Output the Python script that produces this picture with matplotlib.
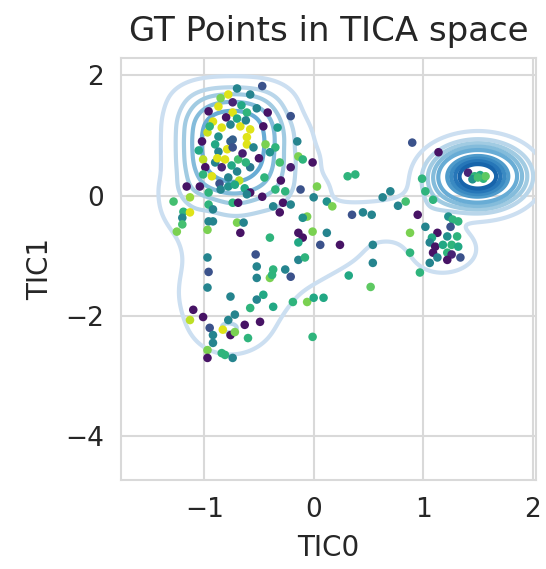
import numpy as np
import matplotlib
matplotlib.use('Agg')
import matplotlib.pyplot as plt
import seaborn as sns

# --- GT points (TIC0, TIC1, colour value for viridis) ---
pts = [
    # left cluster core
    (-0.58, 1.68, .45), (-0.78, 1.68, .95), (-0.74, 1.55, .10), (-0.87, 1.48, .95),
    (-0.96, 1.40, .05), (-0.74, 1.38, .95), (-0.61, 1.38, .65), (-0.92, 1.23, .95),
    (-0.76, 1.18, .45), (-0.67, 1.15, .95), (-0.58, 1.10, .95), (-0.84, 1.13, .95),
    (-0.97, 1.05, .92), (-0.87, 0.98, .50), (-0.74, 0.93, .30), (-0.76, 0.90, .30),
    (-0.61, 0.97, .95), (-0.61, 0.85, .95), (-0.90, 0.85, .60), (-0.79, 0.77, .95),
    (-0.74, 0.80, .25), (-0.87, 0.73, .45), (-0.81, 0.60, .95), (-0.69, 0.60, .70),
    (-0.90, 0.55, .45), (-1.01, 0.60, .90), (-0.99, 0.47, .05), (-0.84, 0.47, .10),
    (-0.70, 0.40, .45), (-0.58, 0.47, .40), (-1.01, 0.35, .65), (-0.93, 0.32, .95),
    (-0.47, 1.82, .25), (-0.80, 1.30, .05), (-0.70, 1.28, .60), (-0.62, 1.25, .45),
    (-0.95, 1.15, .65), (-1.02, 0.90, .05), (-1.05, 0.75, .60), (-0.55, 0.80, .45),
    (-0.50, 0.62, .05), (-0.65, 0.70, .08), (-0.88, 0.62, .95), (-0.75, 0.50, .60),
    (-0.62, 0.55, .65), (-0.52, 1.45, .45), (-0.66, 1.50, .60), (-0.85, 1.62, .80),
    (-0.70, 1.78, .45), (-0.45, 0.30, .65), (-0.78, 0.30, .45), (-0.68, 0.25, .90),
    (-0.86, 0.20, .25),
    # right of left cluster
    (-0.21, 1.32, .25), (-0.15, 0.90, .45), (-0.42, 1.38, .05), (-0.46, 1.15, .05),
    (-0.33, 1.13, .55), (-0.35, 0.80, .65), (-0.14, 0.65, .80), (-0.10, 0.60, .65),
    (-0.01, 0.55, .05), (-0.21, 0.47, .08), (-0.31, 0.55, .70), (0.31, 0.32, .65),
    (0.38, 0.35, .65), (-0.40, 0.72, .50), (-0.44, 0.85, .80),
    # middle band
    (-1.04, 0.15, .05), (-0.96, 0.05, .65), (-0.85, 0.10, .45), (-0.78, 0.15, .50),
    (-0.72, 0.18, .60), (-0.63, 0.12, .60), (-0.58, 0.05, .05), (-0.61, 0.02, .45),
    (-0.47, -0.02, .05), (-0.35, 0.10, .65), (-0.30, 0.25, .05),
    # left side going down
    (-1.28, -0.10, .70), (-1.16, 0.15, .05), (-1.13, -0.03, .85), (-1.19, -0.27, .65),
    (-1.13, -0.28, .95), (-1.20, -0.37, .45), (-1.20, -0.48, .70), (-1.25, -0.60, .80),
    (-0.96, -0.15, .65), (-0.92, -0.23, .45), (-0.96, -0.43, .45), (-0.92, -0.43, .45),
    (-0.97, -0.57, .80), (-0.74, -0.12, .65), (-0.69, -0.12, .05), (-0.70, -0.45, .80),
    (-0.64, -0.45, .45), (-0.67, -0.62, .05), (-0.97, -1.03, .45), (-0.53, -0.98, .25),
    (-0.52, -1.18, .45),
    # centre
    (-0.12, 0.10, .25), (0.03, 0.15, .80), (-0.26, 0.07, .65), (0.00, -0.03, .45),
    (0.12, -0.10, .50), (0.17, -0.18, .80), (-0.28, -0.12, .05), (-0.21, -0.15, .45),
    (-0.37, -0.18, .45), (-0.31, -0.28, .05), (-0.06, -0.35, .80), (-0.10, -0.37, .50),
    (-0.14, -0.62, .05), (-0.10, -0.70, .05), (-0.01, -0.60, .80), (0.12, -0.62, .45),
    (-0.40, -0.70, .65), (-0.14, -0.78, .60), (0.06, -0.82, .25), (0.24, -0.82, .05),
    (-0.14, -1.07, .45), (-0.08, -1.03, .65), (-0.37, -1.23, .65), (-0.26, -1.23, .45),
    (0.32, -1.33, .60), (0.45, -0.28, .45), (0.35, -0.32, .25),
    (0.54, -0.82, .45), (0.54, -1.12, .45), (0.52, -1.52, .75), (-0.21, -1.35, .25),
    (-0.19, -1.77, .65), (-0.06, -1.77, .80), (0.00, -1.70, .60), (0.09, -1.70, .60),
    (-0.01, -2.35, .65),
    # lower left loop
    (-0.96, -1.27, .25), (-0.97, -1.53, .45), (-0.76, -1.68, .45), (-1.13, -2.07, .90),
    (-1.01, -2.02, .05), (-0.95, -2.20, .25), (-0.92, -2.32, .45), (-0.83, -2.23, .95),
    (-0.76, -2.32, .05), (-0.72, -2.27, .80), (-0.78, -2.07, .45), (-0.72, -1.98, .45),
    (-0.63, -2.15, .05), (-0.49, -2.10, .05), (-0.60, -2.37, .65), (-0.58, -1.87, .65),
    (-0.52, -1.73, .45), (-0.46, -1.65, .60), (-0.37, -1.85, .60), (-0.40, -1.37, .80),
    (-0.38, -1.32, .65), (-0.97, -2.57, .80), (-0.97, -2.70, .05), (-0.84, -2.62, .65),
    (-0.81, -2.65, .65), (-0.74, -2.70, .45), (-0.52, -1.37, .45), (-1.10, -1.90, .05),
    (-0.92, -2.45, .45),
    # right side
    (0.90, 0.88, .25), (1.14, 0.72, .05), (0.99, 0.28, .65), (1.02, 0.07, .65),
    (1.09, -0.07, .65), (0.70, 0.07, .45), (0.63, -0.03, .45), (0.84, -0.10, .70),
    (0.77, -0.17, .45), (0.53, -0.32, .45), (0.95, -0.32, .05), (0.88, -0.62, .80),
    (1.02, -0.52, .45), (1.23, -0.35, .50), (1.27, -0.40, .65), (1.32, -0.43, .65),
    (1.25, -0.52, .25), (1.13, -0.62, .05), (1.08, -0.70, .60), (1.22, -0.68, .50),
    (1.31, -0.68, .65), (1.06, -0.78, .45), (1.11, -0.85, .05), (1.18, -0.82, .60),
    (1.26, -0.82, .65), (1.32, -0.85, .60), (1.09, -0.95, .05), (1.22, -0.95, .65),
    (1.26, -0.98, .10), (1.13, -1.03, .45), (1.06, -1.12, .45), (1.22, -1.07, .05),
    (1.34, -1.03, .25), (0.88, -0.95, .65), (0.97, -1.28, .65),
    # right cluster
    (1.41, 0.38, .10), (1.47, 0.32, .65), (1.52, 0.34, .60), (1.55, 0.28, .65),
    (1.45, 0.27, .50), (1.57, 0.32, .75), (1.50, 0.30, .70),
]
gt_x = [p[0] for p in pts]
gt_y = [p[1] for p in pts]
gt_c = [p[2] for p in pts]

# --- coarse sample of the full trajectory used for the density (x, y, weight) ---
kde_pts = [
    # right basin
    (1.50, 0.32, 8),
    (1.62, 0.32, 5), (1.38, 0.32, 5), (1.50, 0.46, 5), (1.50, 0.18, 5),
    (1.59, 0.42, 4), (1.41, 0.42, 4), (1.59, 0.22, 4), (1.41, 0.22, 4),
    (1.74, 0.32, 2), (1.26, 0.32, 2), (1.50, 0.60, 2), (1.50, 0.04, 2),
    (1.67, 0.52, 2), (1.33, 0.52, 2), (1.67, 0.12, 2), (1.33, 0.12, 2),
    # left basin
    (-0.89, 0.55, 3.3), (-0.74, 0.55, 3.3), (-0.59, 0.55, 3.3),
    (-0.89, 0.88, 3.3), (-0.74, 0.88, 5.0), (-0.59, 0.88, 3.3),
    (-0.89, 1.21, 3.3), (-0.74, 1.21, 3.3), (-0.59, 1.21, 3.3),
    (-1.04, 0.22, 1.2), (-0.89, 0.22, 2.0), (-0.74, 0.22, 2.0), (-0.59, 0.22, 2.0),
    (-0.44, 0.22, 1.2), (-1.04, 1.54, 1.0), (-0.89, 1.54, 1.2), (-0.74, 1.54, 1.2),
    (-0.59, 1.54, 1.2), (-0.44, 1.54, 1.0), (-1.04, 0.55, 1.8), (-1.04, 0.88, 1.8),
    (-1.04, 1.21, 1.8), (-0.44, 0.55, 1.8), (-0.44, 0.88, 1.8), (-0.44, 1.21, 1.8),
    (-0.74, -0.07, 1.3),
    # left arm and lower loop
    (-1.15, 0.10, .5), (-1.15, -0.15, .5), (-1.10, -0.35, .5), (-1.00, -0.55, .5),
    (-0.95, -0.80, .5), (-0.92, -1.05, .5), (-0.95, -1.30, .5), (-0.98, -1.55, .5),
    (-0.97, -1.80, .5), (-0.92, -2.05, .5), (-0.85, -2.25, .5), (-0.75, -2.35, .5),
    (-0.62, -2.20, .5), (-0.55, -1.95, .5), (-0.45, -1.70, .5), (-0.35, -1.45, .5),
    (-0.20, -1.25, .5), (-0.05, -1.10, .5), (0.10, -0.95, .5), (0.25, -0.80, .5),
    # interior
    (-0.70, -0.30, .5), (-0.45, -0.25, .5), (-0.20, -0.20, .5), (-0.75, -0.75, .5),
    (-0.45, -0.70, .5), (-0.20, -0.60, .5), (0.00, -0.45, .5), (-0.60, -1.10, .5),
    (-0.35, -1.05, .5), (-0.70, -1.50, .5),
    # upper middle
    (-0.30, 0.30, .5), (-0.15, 0.60, .5), (-0.25, 1.00, .5), (-0.05, 0.10, .5),
    (-0.40, 0.00, .5),
    # band to the right basin
    (0.20, -0.45, .5), (0.40, -0.45, .5), (0.60, -0.42, .5), (0.80, -0.38, .5),
    (1.00, -0.30, .5), (1.12, -0.10, .5), (1.20, 0.10, .5),
    # lobe below the right basin
    (1.00, -0.60, .5), (1.15, -0.75, .5), (1.25, -0.90, .5), (1.15, -1.00, .5),
]
kde_x = [p[0] for p in kde_pts]
kde_y = [p[1] for p in kde_pts]
kde_w = [p[2] for p in kde_pts]

BW_X, BW_Y = 0.16, 0.20
# contour levels as fractions of the peak density
LEVEL_FRACS = [0.0065, 0.035, 0.07, 0.12, 0.19, 0.37, 0.47, 0.58, 0.70]


def density_grid(xs, ys):
    """加权高斯核密度"""
    X, Y = np.meshgrid(xs, ys)
    Z = np.zeros_like(X)
    for x0, y0, w in zip(kde_x, kde_y, kde_w):
        Z += w * np.exp(-0.5 * (((X - x0) / BW_X) ** 2 + ((Y - y0) / BW_Y) ** 2))
    return X, Y, Z


sns.set_theme(style='whitegrid')
plt.rcParams['font.family'] = ['DejaVu Sans']

fig = plt.figure(figsize=(5.46, 5.69), dpi=100)
ax = fig.add_axes([0.2216, 0.1564, 0.760, 0.742])

xs = np.linspace(-1.8, 2.1, 400)
ys = np.linspace(-3.2, 2.3, 500)
X, Y, Z = density_grid(xs, ys)
levels = np.array(LEVEL_FRACS) * Z.max()
colors = [plt.cm.Blues(v) for v in np.linspace(0.22, 0.8, len(levels))]
ax.contour(X, Y, Z, levels=levels, colors=colors, linewidths=3, zorder=2)

ax.scatter(gt_x, gt_y, c=gt_c, cmap='viridis', vmin=0, vmax=1, s=38,
           linewidths=0, zorder=3)

ax.set_xlim(-1.76, 2.03)
ax.set_ylim(-4.73, 2.29)
ax.set_xticks([-1, 0, 1, 2])
ax.set_yticks([-4, -2, 0, 2])
ax.tick_params(labelsize=19, pad=12, length=0, colors='.15')
ax.grid(True, color='.85', linewidth=1.5)
for s in ax.spines.values():
    s.set_color('.85')
    s.set_linewidth(1.5)
ax.set_xlabel('TIC0', fontsize=20, color='.15', labelpad=8)
ax.set_ylabel('TIC1', fontsize=20, color='.15', labelpad=8)
ax.set_title('GT Points in TICA space', fontsize=24.5, color='.15', pad=12)

fig.savefig('out.png', dpi=100)
